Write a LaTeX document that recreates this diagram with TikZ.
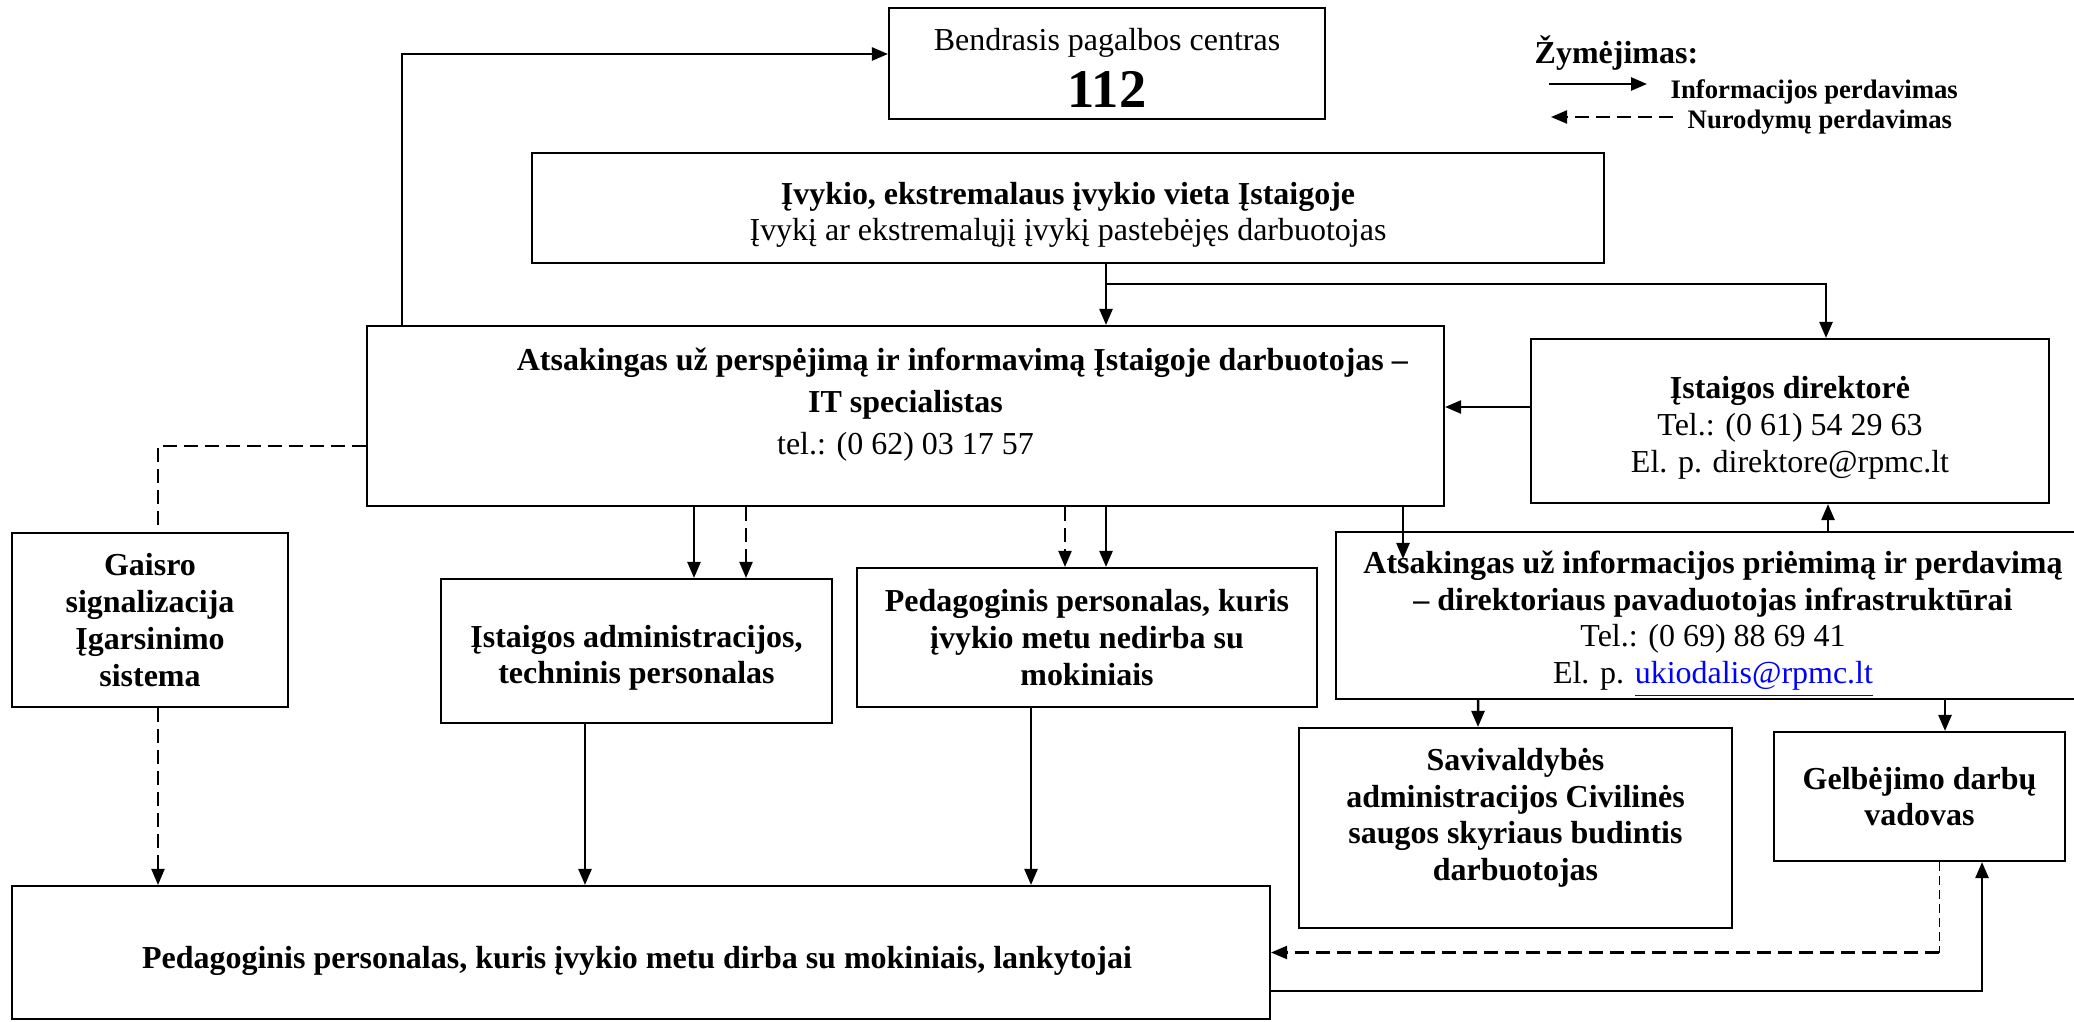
\documentclass[tikz,border=0pt]{standalone}
\usepackage{fontspec}
\setmainfont{Liberation Serif}
\usetikzlibrary{arrows.meta}

\begin{document}
\begin{tikzpicture}[x=0.1mm, y=-0.1mm,
    font=\fontsize{9.1}{10.45}\selectfont,
    box/.style={draw, line width=0.6pt, align=center, inner sep=0pt},
    boldbox/.style={box, font=\fontsize{9.1}{10.45}\selectfont\bfseries},
    info/.style={line width=0.7pt, -{Triangle[length=1.6mm, width=1.3mm]}},
    instr/.style={line width=0.6pt, dash pattern=on 1.4mm off 0.7mm},
    legend/.style={anchor=west, inner sep=0pt, font=\fontsize{7.6}{9}\selectfont\bfseries}]
    \definecolor{link_blue}{HTML}{0000FF}
    %\draw[help lines] (0,0) grid (2074,1021);
    \useasboundingbox (0,0) rectangle (2074,1021);

    \node[box, minimum width=43.6mm, minimum height=11.1mm] (centras) at (1107,63.5) {
        \rule{0pt}{3.1mm}Bendrasis pagalbos centras\\[1.1mm]
        {\fontsize{15.5}{18}\selectfont\bfseries 112}
    };
    \node[box, minimum width=107.2mm, minimum height=11mm] (vieta) at (1068,208) {
        \rule{0pt}{3.6mm}\textbf{Įvykio, ekstremalaus įvykio vieta Įstaigoje}\\
        Įvykį ar ekstremalųjį įvykį pastebėjęs darbuotojas
    };
    \node[box, minimum width=107.7mm, minimum height=18mm, font=\fontsize{9.1}{11.95}\selectfont] (informuoja) at (905.5,416) {
        \hspace*{11.4mm}\textbf{Atsakingas už perspėjimą ir informavimą Įstaigoje darbuotojas –}\\
        \textbf{IT specialistas}\\
        tel.: (0 62) 03 17 57\rule[-3mm]{0pt}{0pt}
    };
    \node[box, minimum width=51.8mm, minimum height=16.4mm] (direktore) at (1790,421) {
        \rule{0pt}{3.6mm}\textbf{Įstaigos direktorė}\\
        Tel.: (0 61) 54 29 63\\
        El. p. direktore@rpmc.lt
    };
    \node[boldbox, minimum width=27.6mm, minimum height=17.4mm] (gaisras) at (150,620) {
        Gaisro\\signalizacija\\Įgarsinimo\\sistema
    };
    \node[boldbox, minimum width=39.1mm, minimum height=14.4mm] (administracija) at (636.5,651) {
        \rule{0pt}{3.6mm}Įstaigos administracijos,\\techninis personalas
    };
    \node[boldbox, minimum width=46mm, minimum height=13.9mm] (nedirba) at (1087,637.5) {
        Pedagoginis personalas, kuris\\įvykio metu nedirba su\\mokiniais
    };
    \node[box, minimum width=75.4mm, minimum height=16.7mm] (infra) at (1713,615.5) {
        \rule{0pt}{4mm}\textbf{Atsakingas už informacijos priėmimą ir perdavimą}\\
        \textbf{– direktoriaus pavaduotojas infrastruktūrai}\\
        Tel.: (0 69) 88 69 41\\
        El. p. \textcolor{link_blue}{\underline{ukiodalis@rpmc.lt}}
    };
    \node[boldbox, minimum width=43.3mm, minimum height=20mm] (savivaldybe) at (1515.5,828) {
        Savivaldybės\\administracijos Civilinės\\saugos skyriaus budintis\\darbuotojas\rule[-2.7mm]{0pt}{0pt}
    };
    \node[boldbox, minimum width=29.1mm, minimum height=12.9mm] (gelbejimas) at (1919.5,796.5) {
        Gelbėjimo darbų\\vadovas
    };
    \node[boldbox, minimum width=125.8mm, minimum height=13.3mm] (dirba) at (641,952.5) {
        \rule{0pt}{4mm}Pedagoginis personalas, kuris įvykio metu dirba su mokiniais, lankytojai
    };

    % legenda
    \node[legend, font=\fontsize{9.1}{10.45}\selectfont\bfseries] (zymejimas) at (1534,53) {Žymėjimas:};
    \node[legend] (lg_info) at (1670,92) {Informacijos perdavimas};
    \node[legend] (lg_instr) at (1687,122) {Nurodymų perdavimas};
    \draw[info] ([xshift=-12.1mm, yshift=0.8mm]lg_info.west) -- ([xshift=-2.3mm, yshift=0.8mm]lg_info.west);
    \draw[instr, -{Triangle[length=1.6mm, width=1.3mm]}] ([xshift=-1.4mm, yshift=0.5mm]lg_instr.west) -- ([xshift=-13.6mm, yshift=0.5mm]lg_instr.west);

    % rodykles
    \coordinate (to_centras) at (402,54);
    \coordinate (split) at (1106,284);
    \draw[info] (informuoja.north -| to_centras) |- (centras.west |- to_centras);
    \draw[info] (vieta.south -| split) -- (informuoja.north -| split);
    \draw[info] (split) -| ([xshift=3.6mm]direktore.north);
    \draw[info] ([yshift=1.4mm]direktore.west) -- ([yshift=1.4mm]direktore.west -| informuoja.east);
    \draw[info] ([xshift=11.5mm]infra.north) -- ([xshift=11.5mm]infra.north |- direktore.south);
    \draw[info] ([xshift=5.75mm]administracija.north |- informuoja.south) -- ([xshift=5.75mm]administracija.north);
    \draw[instr, -{Triangle[length=1.6mm, width=1.3mm]}] ([xshift=10.95mm]administracija.north |- informuoja.south) -- ([xshift=10.95mm]administracija.north);
    \draw[instr, -{Triangle[length=1.6mm, width=1.3mm]}] ([xshift=-2.2mm]nedirba.north |- informuoja.south) -- ([xshift=-2.2mm]nedirba.north);
    \draw[info] ([xshift=1.9mm]nedirba.north |- informuoja.south) -- ([xshift=1.9mm]nedirba.north);
    \draw[info] ([xshift=-31mm]infra.north |- informuoja.south) -- ([xshift=-31mm, yshift=-2.8mm]infra.north);
    \draw[info] ([xshift=-23.5mm]infra.south) -- ([xshift=-3.75mm]savivaldybe.north);
    \draw[info] ([xshift=2.55mm]gelbejimas.north |- infra.south) -- ([xshift=2.55mm]gelbejimas.north);
    \draw[instr] ([yshift=-3mm]informuoja.west) -| ([xshift=0.8mm]gaisras.north);
    \draw[instr, -{Triangle[length=1.6mm, width=1.3mm]}] ([xshift=0.8mm]gaisras.south) -- ([xshift=0.8mm]gaisras.south |- dirba.north);
    \draw[info] ([xshift=-5.15mm]administracija.south) -- ([xshift=-5.15mm]administracija.south |- dirba.north);
    \draw[info] ([xshift=-5.6mm]nedirba.south) -- ([xshift=-5.6mm]nedirba.south |- dirba.north);
    \coordinate (gelb_turn) at ([xshift=1.95mm]gelbejimas.south |- dirba.east);
    \draw[line width=0.3pt, dash pattern=on 0.9mm off 0.5mm] ([xshift=1.95mm]gelbejimas.south) -- (gelb_turn);
    \draw[instr, -{Triangle[length=1.6mm, width=1.3mm]}] (gelb_turn) -- (dirba.east);
    \draw[info] ([yshift=-3.85mm]dirba.east) -| ([xshift=6.25mm]gelbejimas.south);
\end{tikzpicture}
\end{document}
